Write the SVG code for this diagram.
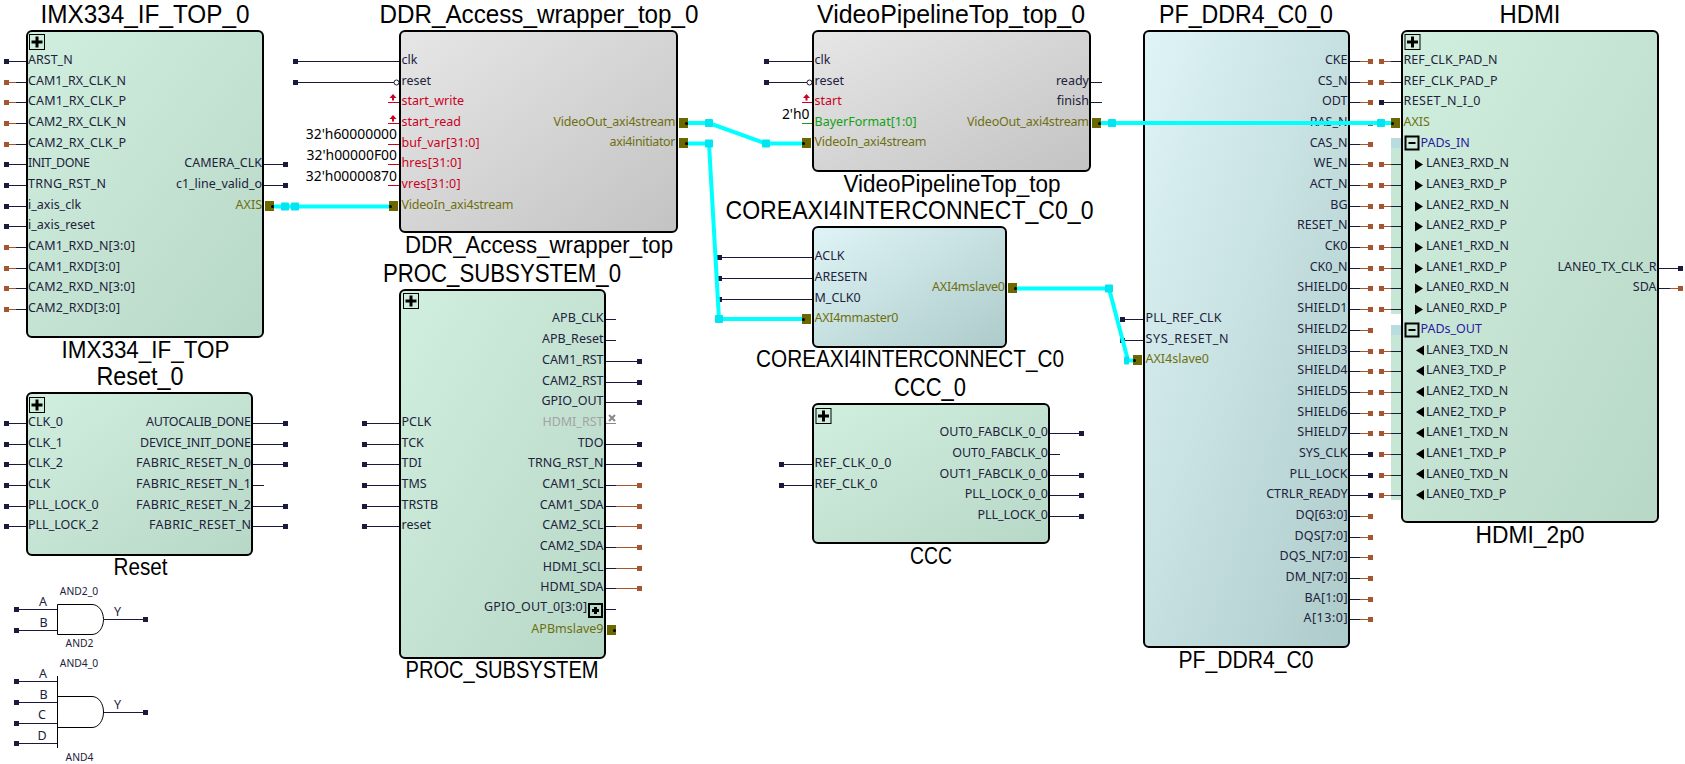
<svg xmlns="http://www.w3.org/2000/svg" width="1685" height="764" viewBox="0 0 1685 764">
<style>
text{font-family:"Noto Sans","DejaVu Sans",sans-serif}
.t{font-size:12.5px;fill:#22223c;transform:translateY(-.7px)}
.e{text-anchor:end}
.c{font-family:"Liberation Sans","Noto Sans",sans-serif;font-size:25px;fill:#000;text-anchor:middle}
.n{font-size:23px}
.k{font-size:13.9px;fill:#000;text-anchor:end}
.s{font-size:10.3px;fill:#22223c;text-anchor:middle}
.red{fill:#cc0022}
.ol{fill:#6f6f10}
.gr{fill:#14a014}
.gy{fill:#a4a4a4}
.bl{fill:#2a1aa0}
path{fill:none}
.w{stroke:#1a1a3c;stroke-width:1}
.b{stroke:#a5552f;stroke-width:1}
.rw{stroke:#cc0022;stroke-width:1}
.gw{stroke:#14a014;stroke-width:1}
.gyw{stroke:#888;stroke-width:1}
.box{stroke:#000;stroke-width:2}
.ag{fill:#fff0;stroke:#000;stroke-width:1}
.d{fill:#1a1a3c;width:5px;height:5px}
.h{fill:#a5552f;width:5px;height:5px}
.o{fill:#6b6800;width:9px;height:10px}
.dot{fill:#000}
.inv{fill:#fff;stroke:#1a1a3c;stroke-width:1}
.cy{fill:none;stroke:#00ffff;stroke-width:4}
.j{fill:#00e6f0;width:8px;height:8px;rx:1px}
</style>
<defs>
<linearGradient id="gG" x1="0" y1="0" x2="1" y2="1"><stop offset="0" stop-color="#d1efdf"/><stop offset="1" stop-color="#b7d7c7"/></linearGradient>
<linearGradient id="gK" x1="0" y1="0" x2="1" y2="1"><stop offset="0" stop-color="#e6e6e6"/><stop offset="1" stop-color="#c3c3c3"/></linearGradient>
<linearGradient id="gB" x1="0" y1="0" x2="1" y2="1"><stop offset="0" stop-color="#dff4f6"/><stop offset="1" stop-color="#adcbca"/></linearGradient>
<g id="plus"><rect x=".5" y=".5" width="15" height="15" fill="none" stroke="#000"/><path d="M2.5 8H13.5M8 2.5V13.5" stroke="#000" stroke-width="3"/></g>
<g id="minus"><rect x="1" y="1" width="13" height="13" fill="none" stroke="#000" stroke-width="2"/><path d="M4 7.5H11" stroke="#000" stroke-width="2"/></g>
<path id="up" d="M0 0L3.5 4H1V6.5H-1V4H-3.5Z" style="fill:#cc0022"/>
<path id="tr" d="M0 -5L8 0L0 5Z" style="fill:#000"/>
<path id="tl" d="M8 -5L0 0L8 5Z" style="fill:#000"/>
</defs>

<g id="IMX334_IF_TOP_0">
<text class="c" x="145" y="23" textLength="209" lengthAdjust="spacingAndGlyphs">IMX334_IF_TOP_0</text>
<rect class="box" fill="url(#gG)" x="27" y="31" width="236" height="306" rx="5"/>
<use href="#plus" x="29" y="34"/>
<path class="w" d="M9 61.5H26M16 82.5H26M16 102.5H26M16 123.5H26M16 144.5H26M9 164.5H26M9 185.5H26M9 206.5H26M9 226.5H26M16 247.5H26M16 268.5H26M16 288.5H26M16 309.5H26M264 164.5H283M264 185.5H283"/>
<path class="b" d="M9 82.5H16M9 102.5H16M9 123.5H16M9 144.5H16M9 247.5H16M9 268.5H16M9 288.5H16M9 309.5H16"/>
<rect class="d" x="4" y="59"/><rect class="h" x="4" y="80"/><rect class="h" x="4" y="100"/><rect class="h" x="4" y="121"/><rect class="h" x="4" y="142"/><rect class="d" x="4" y="162"/><rect class="d" x="4" y="183"/><rect class="d" x="4" y="204"/><rect class="d" x="4" y="224"/><rect class="h" x="4" y="245"/><rect class="h" x="4" y="266"/><rect class="h" x="4" y="286"/><rect class="h" x="4" y="307"/>
<rect class="d" x="283" y="162"/><rect class="d" x="283" y="183"/>
<rect class="o" x="265" y="201"/><circle class="dot" cx="272.5" cy="206.5" r="1.5"/>
<text class="t" x="28" y="65">ARST_N</text>
<text class="t" x="28" y="86" textLength="98">CAM1_RX_CLK_N</text>
<text class="t" x="28" y="106" textLength="98">CAM1_RX_CLK_P</text>
<text class="t" x="28" y="127" textLength="98">CAM2_RX_CLK_N</text>
<text class="t" x="28" y="148" textLength="98">CAM2_RX_CLK_P</text>
<text class="t" x="28" y="168" textLength="62">INIT_DONE</text>
<text class="t" x="28" y="189" textLength="78">TRNG_RST_N</text>
<text class="t" x="28" y="210">i_axis_clk</text>
<text class="t" x="28" y="230">i_axis_reset</text>
<text class="t" x="28" y="251" textLength="107">CAM1_RXD_N[3:0]</text>
<text class="t" x="28" y="272" textLength="92">CAM1_RXD[3:0]</text>
<text class="t" x="28" y="292" textLength="107">CAM2_RXD_N[3:0]</text>
<text class="t" x="28" y="313" textLength="92">CAM2_RXD[3:0]</text>
<text class="t e" x="262" y="168">CAMERA_CLK</text>
<text class="t e" x="262" y="189">c1_line_valid_o</text>
<text class="t e ol" x="262" y="210">AXIS</text>
<text class="c n" x="145.5" y="358" textLength="168" lengthAdjust="spacingAndGlyphs">IMX334_IF_TOP</text>
</g>

<g id="DDR_Access_wrapper_top_0">
<text class="c" x="539" y="23" textLength="319" lengthAdjust="spacingAndGlyphs">DDR_Access_wrapper_top_0</text>
<rect class="box" fill="url(#gK)" x="400" y="31" width="277" height="201" rx="5"/>
<path class="w" d="M298 61.5H399M298 82.5H394"/>
<rect class="d" x="293" y="59"/><rect class="d" x="293" y="80"/>
<circle class="inv" cx="396.5" cy="82.5" r="2.5"/>
<path class="rw" d="M388 102.5H399M388 123.5H399M388 144.5H399M388 164.5H399M388 185.5H399"/>
<use href="#up" x="393" y="94"/><use href="#up" x="393" y="115"/>
<text class="k" x="397" y="139">32'h60000000</text>
<text class="k" x="397" y="160">32'h00000F00</text>
<text class="k" x="397" y="181">32'h00000870</text>
<rect class="o" x="389" y="201"/><circle class="dot" cx="390.5" cy="206.5" r="1.5"/>
<rect class="o" x="679" y="118"/><circle class="dot" cx="686.5" cy="123.5" r="1.5"/>
<rect class="o" x="679" y="138"/><circle class="dot" cx="686.5" cy="143.5" r="1.5"/>
<text class="t" x="401.5" y="65">clk</text>
<text class="t" x="401.5" y="86">reset</text>
<text class="t red" x="401.5" y="106">start_write</text>
<text class="t red" x="401.5" y="127">start_read</text>
<text class="t red" x="401.5" y="148" textLength="78">buf_var[31:0]</text>
<text class="t red" x="401.5" y="168" textLength="60">hres[31:0]</text>
<text class="t red" x="401.5" y="189" textLength="59">vres[31:0]</text>
<text class="t ol" x="401.5" y="210" textLength="112">VideoIn_axi4stream</text>
<text class="t e ol" x="675.5" y="127" textLength="122">VideoOut_axi4stream</text>
<text class="t e ol" x="675.5" y="147" textLength="66">axi4initiator</text>
<text class="c n" x="539" y="253" textLength="268" lengthAdjust="spacingAndGlyphs">DDR_Access_wrapper_top</text>
</g>

<g id="PROC_SUBSYSTEM_0">
<text class="c" x="502" y="282" textLength="238" lengthAdjust="spacingAndGlyphs">PROC_SUBSYSTEM_0</text>
<rect class="box" fill="url(#gG)" x="400" y="290" width="205" height="368" rx="5"/>
<use href="#plus" x="403" y="293"/>
<path class="w" d="M367 423.5H399M367 444.5H399M367 464.5H399M367 485.5H399M367 506.5H399M367 526.5H399M606 319.5H616M606 340.5H616M606 361.5H637M606 382.5H637M606 402.5H637M606 444.5H637M606 464.5H637M606 485.5H616M606 506.5H616M606 526.5H616M606 547.5H616M606 568.5H616M606 588.5H616M606 609.5H616"/>
<path class="b" d="M616 485.5H637M616 506.5H637M616 526.5H637M616 547.5H637M616 568.5H637M616 588.5H637"/>
<path class="gyw" d="M606 423.5H616"/>
<path class="gyw" style="stroke-width:2" d="M609 415L615 421M615 415L609 421"/>
<rect class="d" x="362" y="421"/><rect class="d" x="362" y="442"/><rect class="d" x="362" y="462"/><rect class="d" x="362" y="483"/><rect class="d" x="362" y="504"/><rect class="d" x="362" y="524"/>
<rect class="d" x="637" y="359"/><rect class="d" x="637" y="380"/><rect class="d" x="637" y="400"/><rect class="d" x="637" y="442"/><rect class="d" x="637" y="462"/>
<rect class="h" x="637" y="483"/><rect class="h" x="637" y="504"/><rect class="h" x="637" y="524"/><rect class="h" x="637" y="545"/><rect class="h" x="637" y="566"/><rect class="h" x="637" y="586"/>
<rect x="589" y="604" width="13" height="13" fill="none" stroke="#000" stroke-width="2"/><path d="M592 610.5H599M595.5 607V614" stroke="#000" stroke-width="3"/>
<rect class="o" x="607" y="625"/><circle class="dot" cx="614.5" cy="630.5" r="1.5"/>
<text class="t" x="401.5" y="427">PCLK</text>
<text class="t" x="401.5" y="448">TCK</text>
<text class="t" x="401.5" y="468">TDI</text>
<text class="t" x="401.5" y="489">TMS</text>
<text class="t" x="401.5" y="510">TRSTB</text>
<text class="t" x="401.5" y="530">reset</text>
<text class="t e" x="603.5" y="323">APB_CLK</text>
<text class="t e" x="603.5" y="344">APB_Reset</text>
<text class="t e" x="603.5" y="365">CAM1_RST</text>
<text class="t e" x="603.5" y="386">CAM2_RST</text>
<text class="t e" x="603.5" y="406">GPIO_OUT</text>
<text class="t e gy" x="603.5" y="427">HDMI_RST</text>
<text class="t e" x="603.5" y="448">TDO</text>
<text class="t e" x="603.5" y="468">TRNG_RST_N</text>
<text class="t e" x="603.5" y="489">CAM1_SCL</text>
<text class="t e" x="603.5" y="510">CAM1_SDA</text>
<text class="t e" x="603.5" y="530">CAM2_SCL</text>
<text class="t e" x="603.5" y="551">CAM2_SDA</text>
<text class="t e" x="603.5" y="572">HDMI_SCL</text>
<text class="t e" x="603.5" y="592">HDMI_SDA</text>
<text class="t e" x="587" y="612" textLength="103">GPIO_OUT_0[3:0]</text>
<text class="t e ol" x="603.5" y="634">APBmslave9</text>
<text class="c n" x="502" y="678" textLength="193" lengthAdjust="spacingAndGlyphs">PROC_SUBSYSTEM</text>
</g>

<g id="Reset_0">
<text class="c" x="140" y="385" textLength="87" lengthAdjust="spacingAndGlyphs">Reset_0</text>
<rect class="box" fill="url(#gG)" x="27" y="393" width="225" height="162" rx="5"/>
<use href="#plus" x="29" y="397"/>
<path class="w" d="M9 423.5H26M9 444.5H26M9 464.5H26M9 485.5H26M9 506.5H26M9 526.5H26M253 423.5H283M253 444.5H283M253 464.5H283M253 485.5H264M253 506.5H283M253 526.5H283"/>
<rect class="d" x="4" y="421"/><rect class="d" x="4" y="442"/><rect class="d" x="4" y="462"/><rect class="d" x="4" y="483"/><rect class="d" x="4" y="504"/><rect class="d" x="4" y="524"/>
<rect class="d" x="283" y="421"/><rect class="d" x="283" y="442"/><rect class="d" x="283" y="462"/><rect class="d" x="283" y="504"/><rect class="d" x="283" y="524"/>
<text class="t" x="28" y="427">CLK_0</text>
<text class="t" x="28" y="448">CLK_1</text>
<text class="t" x="28" y="468">CLK_2</text>
<text class="t" x="28" y="489">CLK</text>
<text class="t" x="28" y="510">PLL_LOCK_0</text>
<text class="t" x="28" y="530">PLL_LOCK_2</text>
<text class="t e" x="251" y="427" textLength="105">AUTOCALIB_DONE</text>
<text class="t e" x="251" y="448" textLength="111">DEVICE_INIT_DONE</text>
<text class="t e" x="251" y="468" textLength="115">FABRIC_RESET_N_0</text>
<text class="t e" x="251" y="489" textLength="115">FABRIC_RESET_N_1</text>
<text class="t e" x="251" y="510" textLength="115">FABRIC_RESET_N_2</text>
<text class="t e" x="251" y="530" textLength="102">FABRIC_RESET_N</text>
<text class="c n" x="140.5" y="575" textLength="54" lengthAdjust="spacingAndGlyphs">Reset</text>
</g>

<g id="AND2_0">
<text class="s" x="79" y="595">AND2_0</text>
<path class="ag" d="M57.5 604.5H92C99 604.5 103.5 612 103.5 619.5C103.5 627 99 634.5 92 634.5H57.5Z"/>
<path class="w" d="M19 609.5H57M19 630.5H57M104 619.5H143"/>
<rect class="d" x="14" y="607"/><rect class="d" x="14" y="628"/><rect class="d" x="143" y="617"/>
<text class="t" x="39" y="607">A</text>
<text class="t" x="39.5" y="628">B</text>
<text class="t" x="114" y="617">Y</text>
<text class="s" x="79.5" y="647">AND2</text>
</g>

<g id="AND4_0">
<text class="s" x="79" y="667">AND4_0</text>
<path class="ag" d="M57.5 696.5H92C99 696.5 103.5 704 103.5 712C103.5 720 99 727.5 92 727.5H57.5"/>
<path class="ag" d="M57.5 676V748"/>
<path class="w" d="M19 681.5H57M19 702.5H57M19 723.5H57M19 743.5H57M104 712.5H143"/>
<rect class="d" x="14" y="679"/><rect class="d" x="14" y="700"/><rect class="d" x="14" y="721"/><rect class="d" x="14" y="741"/><rect class="d" x="143" y="710"/>
<text class="t" x="39" y="679">A</text>
<text class="t" x="39.5" y="700">B</text>
<text class="t" x="38" y="720">C</text>
<text class="t" x="37.5" y="741">D</text>
<text class="t" x="114" y="710">Y</text>
<text class="s" x="79.5" y="761">AND4</text>
</g>

<g id="VideoPipelineTop_top_0">
<text class="c" x="951" y="23" textLength="268" lengthAdjust="spacingAndGlyphs">VideoPipelineTop_top_0</text>
<rect class="box" fill="url(#gK)" x="813" y="31" width="277" height="140" rx="5"/>
<path class="w" d="M769 61.5H812M769 82.5H807M1091 82.5H1102M1091 102.5H1102"/>
<rect class="d" x="764" y="59"/><rect class="d" x="764" y="80"/>
<circle class="inv" cx="809.5" cy="82.5" r="2.5"/>
<path class="rw" d="M802 102.5H812"/>
<use href="#up" x="806.5" y="94"/>
<path class="gw" d="M802 123.5H812"/>
<text class="k" x="809.5" y="119">2'h0</text>
<rect class="o" x="802" y="138"/><circle class="dot" cx="803.5" cy="143.5" r="1.5"/>
<rect class="o" x="1092" y="118"/><circle class="dot" cx="1099.5" cy="123.5" r="1.5"/>
<text class="t" x="814.5" y="65">clk</text>
<text class="t" x="814.5" y="86">reset</text>
<text class="t red" x="814.5" y="106">start</text>
<text class="t gr" x="814.5" y="127" textLength="102">BayerFormat[1:0]</text>
<text class="t ol" x="814.5" y="147" textLength="112">VideoIn_axi4stream</text>
<text class="t e" x="1089" y="86">ready</text>
<text class="t e" x="1089" y="106">finish</text>
<text class="t e ol" x="1089" y="127" textLength="122">VideoOut_axi4stream</text>
<text class="c n" x="952" y="192" textLength="217" lengthAdjust="spacingAndGlyphs">VideoPipelineTop_top</text>
</g>

<g id="COREAXI4INTERCONNECT_C0_0">
<text class="c" x="909.5" y="219" textLength="368" lengthAdjust="spacingAndGlyphs">COREAXI4INTERCONNECT_C0_0</text>
<rect class="box" fill="url(#gB)" x="813" y="227" width="193" height="120" rx="5"/>
<path class="w" d="M722 257.5H812M722 278.5H812M722 299.5H812"/>
<rect class="d" x="717" y="255"/><rect class="d" x="717" y="276"/><rect class="d" x="717" y="297"/>
<rect class="o" x="802" y="314"/><circle class="dot" cx="803.5" cy="319.5" r="1.5"/>
<rect class="o" x="1008" y="283"/><circle class="dot" cx="1015.5" cy="288.5" r="1.5"/>
<text class="t" x="814.5" y="261">ACLK</text>
<text class="t" x="814.5" y="282">ARESETN</text>
<text class="t" x="814.5" y="303">M_CLK0</text>
<text class="t ol" x="814.5" y="323" textLength="84">AXI4mmaster0</text>
<text class="t e ol" x="1005" y="292" textLength="73">AXI4mslave0</text>
<text class="c n" x="910" y="367" textLength="308" lengthAdjust="spacingAndGlyphs">COREAXI4INTERCONNECT_C0</text>
</g>

<g id="CCC_0">
<text class="c" x="930" y="396" textLength="72" lengthAdjust="spacingAndGlyphs">CCC_0</text>
<rect class="box" fill="url(#gG)" x="813" y="404" width="236" height="139" rx="5"/>
<use href="#plus" x="815.5" y="408"/>
<path class="w" d="M784 464.5H812M784 485.5H812M1050 433.5H1079M1050 454.5H1060M1050 475.5H1079M1050 495.5H1079M1050 516.5H1079"/>
<rect class="d" x="779" y="462"/><rect class="d" x="779" y="483"/>
<rect class="d" x="1079" y="431"/><rect class="d" x="1079" y="473"/><rect class="d" x="1079" y="493"/><rect class="d" x="1079" y="514"/>
<text class="t" x="814.5" y="468" textLength="77">REF_CLK_0_0</text>
<text class="t" x="814.5" y="489" textLength="63">REF_CLK_0</text>
<text class="t e" x="1048" y="437">OUT0_FABCLK_0_0</text>
<text class="t e" x="1048" y="458">OUT0_FABCLK_0</text>
<text class="t e" x="1048" y="479">OUT1_FABCLK_0_0</text>
<text class="t e" x="1048" y="499">PLL_LOCK_0_0</text>
<text class="t e" x="1048" y="520">PLL_LOCK_0</text>
<text class="c n" x="931" y="564" textLength="42" lengthAdjust="spacingAndGlyphs">CCC</text>
</g>

<g id="PF_DDR4_C0_0">
<text class="c" x="1246" y="23" textLength="174" lengthAdjust="spacingAndGlyphs">PF_DDR4_C0_0</text>
<rect class="box" fill="url(#gB)" x="1144" y="31" width="205" height="616" rx="5"/>
<path class="w" d="M1125 319.5H1143M1125 340.5H1143M1350 61.5H1360M1350 82.5H1360M1350 102.5H1360M1350 123.5H1360M1350 144.5H1360M1350 164.5H1360M1350 185.5H1360M1350 206.5H1360M1350 226.5H1360M1350 247.5H1360M1350 268.5H1360M1350 288.5H1360M1350 309.5H1360M1350 330.5H1360M1350 351.5H1360M1350 371.5H1360M1350 392.5H1360M1350 413.5H1360M1350 433.5H1360M1350 454.5H1368M1350 475.5H1368M1350 495.5H1368M1350 516.5H1360M1350 537.5H1360M1350 557.5H1360M1350 578.5H1360M1350 599.5H1360M1350 619.5H1360"/>
<path class="b" d="M1360 61.5H1368M1360 82.5H1368M1360 102.5H1368M1360 123.5H1368M1360 144.5H1368M1360 164.5H1368M1360 185.5H1368M1360 206.5H1368M1360 226.5H1368M1360 247.5H1368M1360 268.5H1368M1360 288.5H1368M1360 309.5H1368M1360 330.5H1368M1360 351.5H1368M1360 371.5H1368M1360 392.5H1368M1360 413.5H1368M1360 433.5H1368M1360 516.5H1368M1360 537.5H1368M1360 557.5H1368M1360 578.5H1368M1360 599.5H1368M1360 619.5H1368"/>
<rect class="d" x="1120" y="317"/><rect class="d" x="1120" y="338"/>
<rect class="h" x="1368" y="59"/><rect class="h" x="1368" y="80"/><rect class="h" x="1368" y="100"/><rect class="h" x="1368" y="121"/><rect class="h" x="1368" y="142"/><rect class="h" x="1368" y="162"/><rect class="h" x="1368" y="183"/><rect class="h" x="1368" y="204"/><rect class="h" x="1368" y="224"/><rect class="h" x="1368" y="245"/><rect class="h" x="1368" y="266"/><rect class="h" x="1368" y="286"/><rect class="h" x="1368" y="307"/><rect class="h" x="1368" y="328"/><rect class="h" x="1368" y="349"/><rect class="h" x="1368" y="369"/><rect class="h" x="1368" y="390"/><rect class="h" x="1368" y="411"/><rect class="h" x="1368" y="431"/>
<rect class="d" x="1368" y="452"/><rect class="d" x="1368" y="473"/><rect class="d" x="1368" y="493"/>
<rect class="h" x="1368" y="514"/><rect class="h" x="1368" y="535"/><rect class="h" x="1368" y="555"/><rect class="h" x="1368" y="576"/><rect class="h" x="1368" y="597"/><rect class="h" x="1368" y="617"/>
<rect class="o" x="1133" y="355"/><circle class="dot" cx="1134.5" cy="360.5" r="1.5"/>
<text class="t" x="1145.5" y="323" textLength="76">PLL_REF_CLK</text>
<text class="t" x="1145.5" y="344" textLength="83">SYS_RESET_N</text>
<text class="t ol" x="1145.5" y="364">AXI4slave0</text>
<text class="t e" x="1347.5" y="65">CKE</text>
<text class="t e" x="1347.5" y="86">CS_N</text>
<text class="t e" x="1347.5" y="106">ODT</text>
<text class="t e" x="1347.5" y="127">RAS_N</text>
<text class="t e" x="1347.5" y="148">CAS_N</text>
<text class="t e" x="1347.5" y="168">WE_N</text>
<text class="t e" x="1347.5" y="189">ACT_N</text>
<text class="t e" x="1347.5" y="210">BG</text>
<text class="t e" x="1347.5" y="230">RESET_N</text>
<text class="t e" x="1347.5" y="251">CK0</text>
<text class="t e" x="1347.5" y="272">CK0_N</text>
<text class="t e" x="1347.5" y="292">SHIELD0</text>
<text class="t e" x="1347.5" y="313">SHIELD1</text>
<text class="t e" x="1347.5" y="334">SHIELD2</text>
<text class="t e" x="1347.5" y="355">SHIELD3</text>
<text class="t e" x="1347.5" y="375">SHIELD4</text>
<text class="t e" x="1347.5" y="396">SHIELD5</text>
<text class="t e" x="1347.5" y="417">SHIELD6</text>
<text class="t e" x="1347.5" y="437">SHIELD7</text>
<text class="t e" x="1347.5" y="458">SYS_CLK</text>
<text class="t e" x="1347.5" y="479">PLL_LOCK</text>
<text class="t e" x="1347.5" y="499">CTRLR_READY</text>
<text class="t e" x="1347.5" y="520" textLength="52">DQ[63:0]</text>
<text class="t e" x="1347.5" y="541" textLength="53">DQS[7:0]</text>
<text class="t e" x="1347.5" y="561" textLength="68">DQS_N[7:0]</text>
<text class="t e" x="1347.5" y="582" textLength="62">DM_N[7:0]</text>
<text class="t e" x="1347.5" y="603" textLength="43">BA[1:0]</text>
<text class="t e" x="1347.5" y="623" textLength="44">A[13:0]</text>
<text class="c n" x="1246" y="668" textLength="135" lengthAdjust="spacingAndGlyphs">PF_DDR4_C0</text>
</g>

<g id="HDMI">
<text class="c" x="1530" y="23" textLength="61" lengthAdjust="spacingAndGlyphs">HDMI</text>
<rect x="1391" y="138" width="10" height="10" fill="#b8dcdf"/>
<rect x="1391" y="148" width="10" height="166" fill="#c6e6d6"/>
<rect x="1391" y="325" width="10" height="10" fill="#b8dcdf"/>
<rect x="1391" y="335" width="10" height="165" fill="#c6e6d6"/>
<rect class="box" fill="url(#gG)" x="1402" y="31" width="256" height="491" rx="5"/>
<use href="#plus" x="1404.5" y="34"/>
<use href="#minus" x="1404.5" y="135.5"/>
<use href="#minus" x="1404.5" y="322.5"/>
<path class="w" d="M1391 61.5H1401M1391 82.5H1401M1384 102.5H1401M1391 164.5H1401M1391 185.5H1401M1391 206.5H1401M1391 226.5H1401M1391 247.5H1401M1391 268.5H1401M1391 288.5H1401M1391 309.5H1401M1391 351.5H1401M1391 371.5H1401M1391 392.5H1401M1391 413.5H1401M1391 433.5H1401M1391 454.5H1401M1391 475.5H1401M1391 495.5H1401M1659 268.5H1678M1659 288.5H1670"/>
<path class="b" d="M1384 61.5H1391M1384 82.5H1391M1384 164.5H1391M1384 185.5H1391M1384 206.5H1391M1384 226.5H1391M1384 247.5H1391M1384 268.5H1391M1384 288.5H1391M1384 309.5H1391M1384 351.5H1391M1384 371.5H1391M1384 392.5H1391M1384 413.5H1391M1384 433.5H1391M1384 454.5H1391M1384 475.5H1391M1384 495.5H1391M1670 288.5H1678"/>
<rect class="h" x="1379" y="59"/><rect class="h" x="1379" y="80"/><rect class="d" x="1379" y="100"/>
<rect class="h" x="1379" y="162"/><rect class="h" x="1379" y="183"/><rect class="h" x="1379" y="204"/><rect class="h" x="1379" y="224"/><rect class="h" x="1379" y="245"/><rect class="h" x="1379" y="266"/><rect class="h" x="1379" y="286"/><rect class="h" x="1379" y="307"/>
<rect class="h" x="1379" y="349"/><rect class="h" x="1379" y="369"/><rect class="h" x="1379" y="390"/><rect class="h" x="1379" y="411"/><rect class="h" x="1379" y="431"/><rect class="h" x="1379" y="452"/><rect class="h" x="1379" y="473"/><rect class="h" x="1379" y="493"/>
<rect class="d" x="1678" y="266"/><rect class="h" x="1678" y="286"/>
<rect class="o" x="1391" y="118"/><circle class="dot" cx="1392.5" cy="123.5" r="1.5"/>
<use href="#tr" x="1415" y="164.5"/><use href="#tr" x="1415" y="185.5"/><use href="#tr" x="1415" y="206.5"/><use href="#tr" x="1415" y="226.5"/><use href="#tr" x="1415" y="247.5"/><use href="#tr" x="1415" y="268.5"/><use href="#tr" x="1415" y="288.5"/><use href="#tr" x="1415" y="309.5"/>
<use href="#tl" x="1416" y="350.5"/><use href="#tl" x="1416" y="371"/><use href="#tl" x="1416" y="392"/><use href="#tl" x="1416" y="412"/><use href="#tl" x="1416" y="433"/><use href="#tl" x="1416" y="454"/><use href="#tl" x="1416" y="474"/><use href="#tl" x="1416" y="495"/>
<text class="t" x="1403.5" y="65" textLength="94">REF_CLK_PAD_N</text>
<text class="t" x="1403.5" y="86" textLength="94">REF_CLK_PAD_P</text>
<text class="t" x="1403.5" y="106" textLength="77">RESET_N_I_0</text>
<text class="t ol" x="1403.5" y="127">AXIS</text>
<text class="t bl" x="1420.5" y="148">PADs_IN</text>
<text class="t" x="1426" y="168">LANE3_RXD_N</text>
<text class="t" x="1426" y="189">LANE3_RXD_P</text>
<text class="t" x="1426" y="210">LANE2_RXD_N</text>
<text class="t" x="1426" y="230">LANE2_RXD_P</text>
<text class="t" x="1426" y="251">LANE1_RXD_N</text>
<text class="t" x="1426" y="272">LANE1_RXD_P</text>
<text class="t" x="1426" y="292">LANE0_RXD_N</text>
<text class="t" x="1426" y="313">LANE0_RXD_P</text>
<text class="t bl" x="1420.5" y="334">PADs_OUT</text>
<text class="t" x="1426" y="355">LANE3_TXD_N</text>
<text class="t" x="1426" y="375">LANE3_TXD_P</text>
<text class="t" x="1426" y="396">LANE2_TXD_N</text>
<text class="t" x="1426" y="417">LANE2_TXD_P</text>
<text class="t" x="1426" y="437">LANE1_TXD_N</text>
<text class="t" x="1426" y="458">LANE1_TXD_P</text>
<text class="t" x="1426" y="479">LANE0_TXD_N</text>
<text class="t" x="1426" y="499">LANE0_TXD_P</text>
<text class="t e" x="1656.5" y="272">LANE0_TX_CLK_R</text>
<text class="t e" x="1656.5" y="292">SDA</text>
<text class="c n" x="1530" y="543" textLength="109" lengthAdjust="spacingAndGlyphs">HDMI_2p0</text>
</g>

<g id="connectors">
<path class="cy" d="M274 206.5H389"/>
<rect class="j" x="281" y="202.5"/><rect class="j" x="291" y="202.5"/>
<path class="cy" d="M688 123L709 123L766 143.5H802"/>
<rect class="j" x="705" y="119"/><rect class="j" x="762" y="139.5"/>
<path class="cy" d="M688 143.5H709L719 319H802"/>
<rect class="j" x="705" y="139.5"/><rect class="j" x="715" y="315"/>
<path class="cy" d="M1017 288.5H1109L1128 360.5H1133"/>
<rect class="j" x="1105" y="284.5"/><rect class="j" x="1124" y="356.5" style="width:5px"/>
<path class="cy" d="M1101 123H1391"/>
<rect class="j" x="1108" y="119"/><rect class="j" x="1377" y="119"/>
</g>
</svg>
